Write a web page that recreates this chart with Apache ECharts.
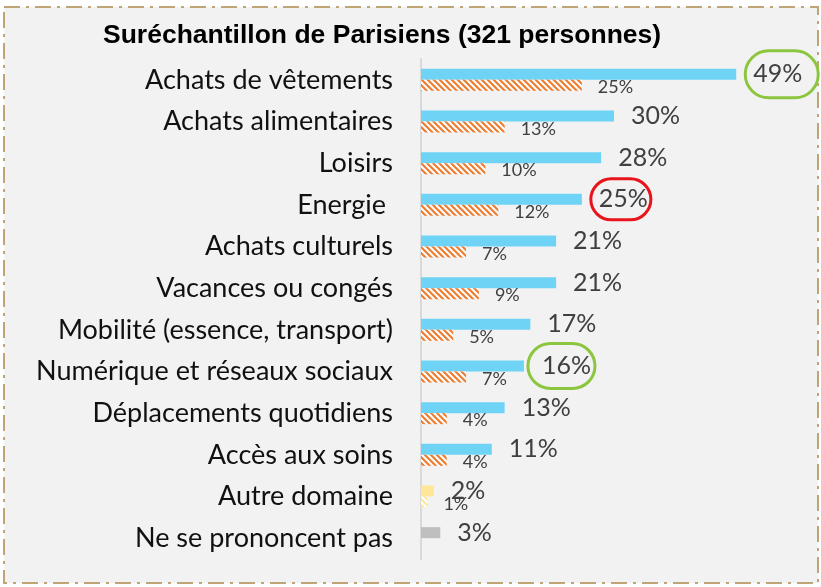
<!DOCTYPE html>
<html>
<head>
<meta charset="utf-8">
<script src="https://cdn.jsdelivr.net/npm/echarts@6/dist/echarts.min.js"></script>
<style>
html,body{margin:0;padding:0;background:#fff;}
#chart{width:821px;height:587px;}
</style>
</head>
<body>
<div id="chart"></div>
<script>
var categories = ['Achats de vêtements','Achats alimentaires','Loisirs','Energie ','Achats culturels',
    'Vacances ou congés','Mobilité (essence, transport)','Numérique et réseaux sociaux',
    'Déplacements quotidiens','Accès aux soins','Autre domaine','Ne se prononcent pas'];
var parisValues = [49,30,28,25,21,21,17,16,13,11,2,3];
var nationalValues = [25,13,10,12,7,9,5,7,4,4,1,null];
var circled = {0:'#8CC63F', 3:'#E8141B', 7:'#8CC63F'};

function hatch(color){
    var c = document.createElement('canvas');
    c.width = c.height = 6;
    var g = c.getContext('2d');
    g.fillStyle = '#fff';
    g.fillRect(0,0,6,6);
    g.strokeStyle = color;
    g.lineWidth = 2.2;
    g.beginPath();
    g.moveTo(-3,-3); g.lineTo(9,9);
    g.moveTo(-3,3); g.lineTo(3,9);
    g.moveTo(3,-3); g.lineTo(9,3);
    g.stroke();
    return {image:c, repeat:'repeat'};
}

var blueData = parisValues.map(function(v,i){
    var d = {value:v};
    if(i==10) d.itemStyle = {color:'#FFE699'};
    if(i==11) d.itemStyle = {color:'#BFBFBF'};
    if(circled[i]){
        var pads = {0:[11,16,11,8], 3:[8,3,8,8], 7:[10,4,10,14]};
        d.label = {borderColor:circled[i], borderWidth:3, borderRadius:26, padding:pads[i],
            distance: i==7 ? 4 : 9};
    }
    return d;
});
var orangeData = nationalValues.map(function(v,i){
    var d = {value:v};
    if(i==10) d.itemStyle = {color:hatch('#FFE699')};
    return d;
});

var chart = echarts.init(document.getElementById('chart'));
chart.setOption({
    backgroundColor:'#fff',
    animation:false,
    title:{
        text:'Suréchantillon de Parisiens (321 personnes)',
        left:98, top:17,
        textStyle:{fontFamily:'Liberation Sans', fontWeight:'bold', fontSize:26.5, color:'#000'}
    },
    graphic:[{
        type:'rect', z:-10, silent:true,
        shape:{x:4, y:7, width:814, height:576},
        style:{fill:'#F2F2F2', stroke:'#BFA477', lineWidth:2, lineDash:[16,6,3,6]}
    }],
    grid:{left:421, right:14, top:59, bottom:28},
    xAxis:{type:'value', min:0, max:60, show:false},
    yAxis:{
        type:'category', inverse:true, data:categories,
        axisLine:{lineStyle:{color:'#D9D9D9', width:2}},
        axisTick:{show:false},
        axisLabel:{fontFamily:'Lato', fontSize:27, color:'#111', margin:28}
    },
    series:[{
        type:'bar', barWidth:11, barGap:'0%',
        itemStyle:{color:'#6FD3F5'},
        label:{show:true, position:'right', distance:17, formatter:'{c}%',
            fontFamily:'Lato', fontSize:25, color:'#404040'},
        data:blueData
    },{
        type:'bar', barWidth:11, barGap:'0%',
        itemStyle:{color:hatch('#ED7D31')},
        label:{show:true, position:'right', distance:16, offset:[0,2], formatter:'{c}%',
            fontFamily:'Lato', fontSize:18, color:'#404040'},
        data:orangeData
    }]
});
</script>
</body>
</html>
